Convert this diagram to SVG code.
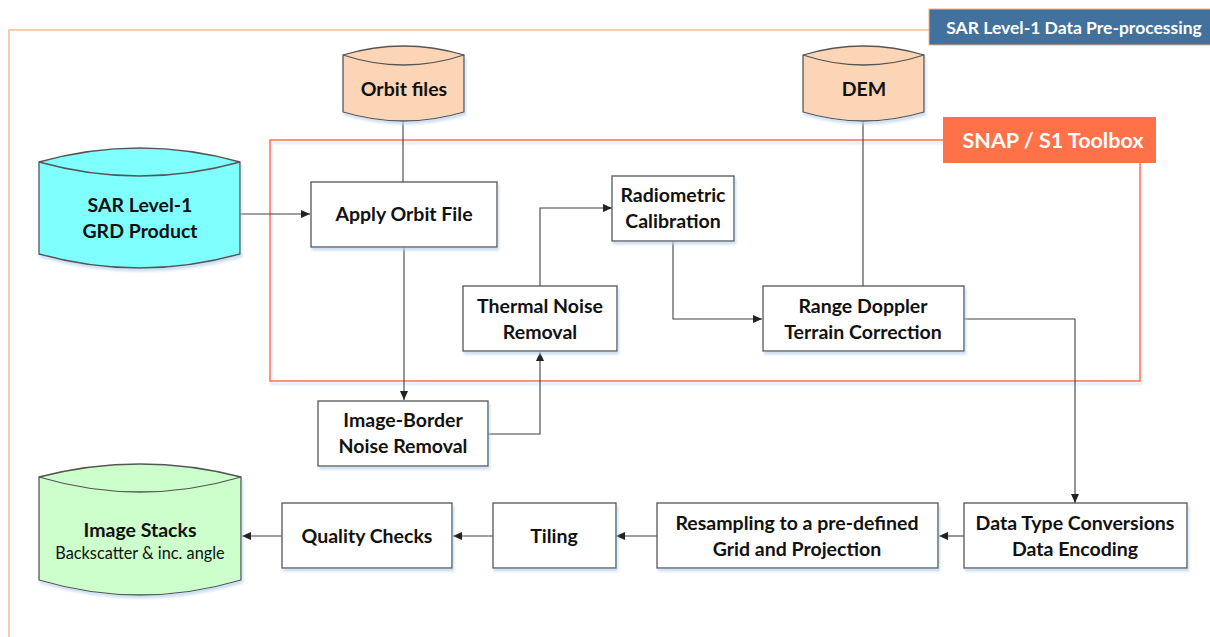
<svg xmlns="http://www.w3.org/2000/svg" width="1210" height="637" viewBox="0 0 1210 637">
<defs>
<style>
.box{fill:#fff;stroke:#555;stroke-width:1.3}
.t{font-family:Lato,"Open Sans","Liberation Sans",sans-serif;font-weight:bold;font-size:19.5px;fill:#111;text-anchor:middle}
.s{font-family:Lato,"Open Sans","Liberation Sans",sans-serif;font-size:16.3px;fill:#111;text-anchor:middle}
.w{font-family:Lato,"Open Sans","Liberation Sans",sans-serif;font-weight:bold;fill:#fff;text-anchor:middle}
.c{fill:none;stroke:#404040;stroke-width:1.1}
.cyl{stroke:#555;stroke-width:1.3}
</style>
<marker id="ah" markerWidth="10" markerHeight="8" refX="9" refY="4" orient="auto" markerUnits="userSpaceOnUse">
<path d="M0,0 L9,4 L0,8 Z" fill="#222"/>
</marker>
<filter id="sh" x="-5%" y="-5%" width="115%" height="125%">
<feDropShadow dx="1.5" dy="3" stdDeviation="1.2" flood-color="#bcd3ec" flood-opacity="0.7"/>
</filter>
</defs>
<rect width="1210" height="637" fill="#fff"/>
<g id="frame-outer">
<rect x="9" y="30" width="1300" height="700" fill="none" stroke="#F4B183" stroke-width="1.3"/>
</g>
<g id="label-outer">
<rect x="929" y="9" width="290" height="36" fill="#41719C" stroke="#F4B183" stroke-width="1"/>
<text class="w" x="1074" y="33.5" font-size="17.5">SAR Level-1 Data Pre-processing</text>
</g>
<g id="frame-snap">
<rect x="270" y="140" width="870" height="241" fill="none" stroke="#FF7050" stroke-width="1.5" filter="url(#sh)"/>
</g>
<g id="label-snap">
<rect x="943" y="117" width="213" height="46" fill="#FF7149"/>
<text class="w" x="1053" y="148" font-size="21.5">SNAP / S1 Toolbox</text>
</g>
<g id="connectors">
<path class="c" d="M240,214 H310" marker-end="url(#ah)"/>
<path class="c" d="M403,121 V182"/>
<path class="c" d="M404,247 V400" marker-end="url(#ah)"/>
<path class="c" d="M488,434 H540 V352" marker-end="url(#ah)"/>
<path class="c" d="M540,286 V208 H612" marker-end="url(#ah)"/>
<path class="c" d="M673,241 V319 H762" marker-end="url(#ah)"/>
<path class="c" d="M863,121 V286"/>
<path class="c" d="M964,319 H1075 V503" marker-end="url(#ah)"/>
<path class="c" d="M964,536 H939" marker-end="url(#ah)"/>
<path class="c" d="M657,536 H616" marker-end="url(#ah)"/>
<path class="c" d="M493,536 H453" marker-end="url(#ah)"/>
<path class="c" d="M282,536 H242" marker-end="url(#ah)"/>
</g>
<g id="sar-product">
<path class="cyl" d="M39,162 Q139.5,134 240,162 L240,254 Q139.5,282 39,254 Z" fill="#80FFFF" filter="url(#sh)"/>
<path class="cyl" d="M39,162 Q139.5,190 240,162" fill="none"/>
<text class="t" x="140" y="212">SAR Level-1</text>
<text class="t" x="140" y="238">GRD Product</text>
</g>
<g id="orbit-files">
<path class="cyl" d="M343,55 Q403.5,37 464,55 L464,112 Q403.5,130 343,112 Z" fill="#FBD5B5" filter="url(#sh)"/>
<path class="cyl" d="M343,55 Q403.5,75 464,55" fill="none"/>
<text class="t" x="404" y="96">Orbit files</text>
</g>
<g id="dem">
<path class="cyl" d="M803,55 Q863.5,37 924,55 L924,112 Q863.5,130 803,112 Z" fill="#FBD5B5" filter="url(#sh)"/>
<path class="cyl" d="M803,55 Q863.5,75 924,55" fill="none"/>
<text class="t" x="864" y="96">DEM</text>
</g>
<g id="apply-orbit">
<rect class="box" x="311" y="182" width="186" height="65" filter="url(#sh)"/>
<text class="t" x="404" y="221">Apply Orbit File</text>
</g>
<g id="image-border">
<rect class="box" x="318" y="401" width="170" height="65" filter="url(#sh)"/>
<text class="t" x="403" y="427">Image-Border</text>
<text class="t" x="403" y="453">Noise Removal</text>
</g>
<g id="thermal-noise">
<rect class="box" x="463" y="286" width="154" height="65" filter="url(#sh)"/>
<text class="t" x="540" y="313">Thermal Noise</text>
<text class="t" x="540" y="339">Removal</text>
</g>
<g id="radiometric">
<rect class="box" x="612" y="176" width="122" height="65" filter="url(#sh)"/>
<text class="t" x="673" y="202">Radiometric</text>
<text class="t" x="673" y="228">Calibration</text>
</g>
<g id="range-doppler">
<rect class="box" x="763" y="286" width="201" height="65" filter="url(#sh)"/>
<text class="t" x="863" y="313">Range Doppler</text>
<text class="t" x="863" y="339">Terrain Correction</text>
</g>
<g id="data-type">
<rect class="box" x="964" y="503" width="223" height="65" filter="url(#sh)"/>
<text class="t" x="1075" y="530">Data Type Conversions</text>
<text class="t" x="1075" y="556">Data Encoding</text>
</g>
<g id="resampling">
<rect class="box" x="657" y="503" width="281" height="65" filter="url(#sh)"/>
<text class="t" x="797" y="530">Resampling to a pre-defined</text>
<text class="t" x="797" y="556">Grid and Projection</text>
</g>
<g id="tiling">
<rect class="box" x="493" y="503" width="123" height="65" filter="url(#sh)"/>
<text class="t" x="554" y="543">Tiling</text>
</g>
<g id="quality-checks">
<rect class="box" x="282" y="503" width="170" height="65" filter="url(#sh)"/>
<text class="t" x="367" y="543">Quality Checks</text>
</g>
<g id="image-stacks">
<path class="cyl" d="M39,477 Q140,451 241,477 L241,580 Q140,610 39,580 Z" fill="#CCFFCC" filter="url(#sh)"/>
<path class="cyl" d="M39,477 Q140,507 241,477" fill="none"/>
<text class="t" x="140" y="537">Image Stacks</text>
<text class="s" x="140" y="559">Backscatter &amp; inc. angle</text>
</g>
</svg>
